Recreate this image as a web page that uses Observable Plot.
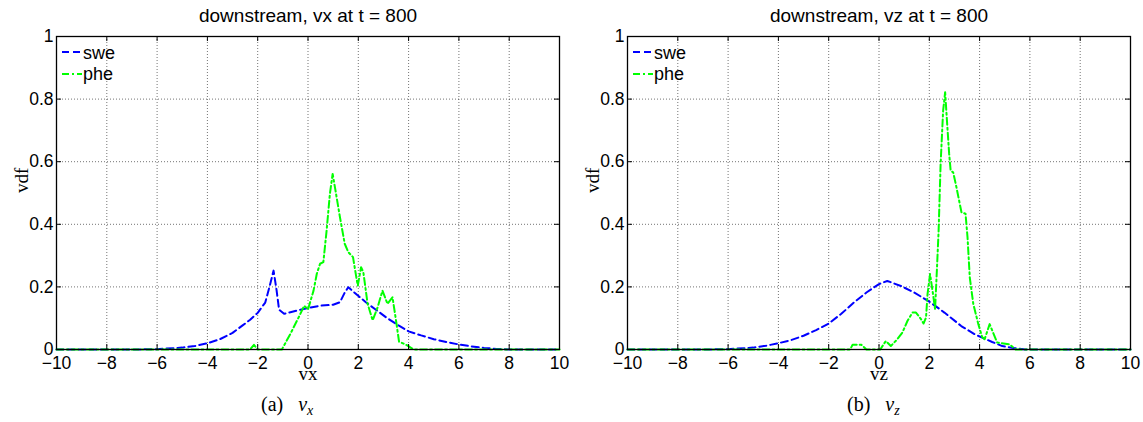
<!DOCTYPE html>
<html><head><meta charset="utf-8">
<script src="https://cdn.jsdelivr.net/npm/d3@7"></script>
<script src="https://cdn.jsdelivr.net/npm/@observablehq/plot@0.6"></script>
<style>
body{margin:0;background:#fff;}
#fig{position:relative;width:1143px;height:422px;background:#fff;overflow:hidden;}
.panel{position:absolute;top:0;width:571px;height:422px;}
.cap{position:absolute;top:394px;font-family:"Liberation Serif","Times New Roman",serif;font-size:20px;line-height:20px;white-space:nowrap;color:#000;}
.cap i{font-style:italic;}
.cap sub{font-size:14px;font-style:italic;vertical-align:baseline;position:relative;top:4px;}
.leg{position:absolute;font-family:"Liberation Sans",Arial,sans-serif;font-size:18px;line-height:18px;white-space:nowrap;color:#000;}
.legline{position:absolute;}
</style></head><body><div id="fig"></div>
<script>
// ---- tick values ----
const xTicks = [-10, -8, -6, -4, -2, 0, 2, 4, 6, 8, 10];
const yTicks = [0, 0.2, 0.4, 0.6, 0.8, 1];

// ---- texts ----
const titles = ["downstream, vx at t = 800", "downstream, vz at t = 800"];
const xLabels = ["vx", "vz"];
const yLabel = "vdf";
const captionLetters = ["(a)", "(b)"];
const captionSubs = ["x", "z"];
const seriesNames = ["swe", "phe"];
const seriesColors = ["#0000ff", "#00ff00"];
const seriesDash = ["7,4", "7,3,2,3"];

// ---- panel (a): vx ----
const sweVxV = [-10, -7, -6, -5, -4.5, -4, -3.5, -3, -2.6, -2.3, -2, -1.7, -1.5, -1.37, -1.25, -1.15, -0.95, -0.7, -0.3, 0, 0.5, 1.0, 1.27, 1.45, 1.6, 1.9, 2.3, 2.7, 3.1, 3.6, 4.0, 4.5, 5, 5.5, 6, 6.5, 7, 7.5, 8, 10];
const sweVxF = [0, 0, 0.001, 0.006, 0.011, 0.02, 0.033, 0.053, 0.077, 0.095, 0.117, 0.15, 0.21, 0.252, 0.19, 0.127, 0.114, 0.119, 0.127, 0.133, 0.14, 0.143, 0.151, 0.18, 0.199, 0.178, 0.151, 0.127, 0.103, 0.077, 0.058, 0.045, 0.033, 0.024, 0.016, 0.01, 0.005, 0.002, 0, 0];
const pheVxV = [-10, -2.3, -2.15, -2.0, -1.04, -0.7, -0.37, -0.15, 0, 0.22, 0.35, 0.48, 0.61, 0.74, 0.87, 0.98, 1.07, 1.27, 1.46, 1.6, 1.79, 1.92, 1.98, 2.11, 2.2, 2.37, 2.57, 2.77, 2.96, 3.16, 3.36, 3.52, 3.62, 3.9, 4.2, 10];
const pheVxF = [0, 0, 0.015, 0, 0, 0.05, 0.103, 0.14, 0.128, 0.188, 0.242, 0.274, 0.279, 0.38, 0.497, 0.561, 0.519, 0.423, 0.338, 0.311, 0.295, 0.231, 0.204, 0.263, 0.247, 0.146, 0.093, 0.135, 0.188, 0.146, 0.167, 0.082, 0.025, 0.015, 0, 0];

// ---- panel (b): vz ----
const sweVzV = [-10, -7, -6, -5, -4.5, -4, -3.5, -3, -2.5, -2, -1.5, -1, -0.5, 0, 0.33, 0.87, 1.4, 2, 2.6, 3.27, 3.8, 4.1, 4.5, 4.9, 5.4, 5.8, 10];
const sweVzF = [0, 0, 0.001, 0.006, 0.012, 0.02, 0.03, 0.044, 0.062, 0.083, 0.114, 0.15, 0.182, 0.209, 0.219, 0.203, 0.182, 0.153, 0.118, 0.075, 0.049, 0.038, 0.024, 0.011, 0.004, 0, 0];
const pheVzV = [-10, -1.15, -1.05, -0.7, -0.5, 0.05, 0.27, 0.47, 0.73, 0.93, 1.13, 1.33, 1.47, 1.67, 1.77, 1.87, 1.93, 2.03, 2.13, 2.23, 2.3, 2.37, 2.45, 2.55, 2.63, 2.71, 2.79, 2.85, 2.95, 3.08, 3.28, 3.44, 3.52, 3.61, 3.75, 3.95, 4.1, 4.2, 4.4, 4.7, 5.2, 5.43, 10];
const pheVzF = [0, 0, 0.015, 0.015, 0, 0, 0.027, 0.011, 0.033, 0.054, 0.091, 0.118, 0.118, 0.097, 0.083, 0.102, 0.177, 0.241, 0.187, 0.129, 0.251, 0.379, 0.593, 0.763, 0.822, 0.721, 0.625, 0.571, 0.566, 0.518, 0.438, 0.434, 0.358, 0.23, 0.145, 0.081, 0.04, 0.033, 0.081, 0.022, 0.016, 0, 0];

const panelsData = [
  {swe: [sweVxV, sweVxF], phe: [pheVxV, pheVxF]},
  {swe: [sweVzV, sweVzF], phe: [pheVzV, pheVzF]}
];
const panelLeft = [0, 571];
const captionLeft = [261, 847];

const fmtX = d => d < 0 ? "\u2212" + Math.abs(d) : String(d);
const sansFont = "Liberation Sans, Arial, Helvetica, sans-serif";
const serifFont = "Liberation Serif, Times New Roman, serif";

function makePanel(i) {
  const pd = panelsData[i];
  const table = (arr) => arr[0].map((v, k) => ({v, f: arr[1][k]}));
  const swe = table(pd.swe), phe = table(pd.phe);
  return Plot.plot({
    width: 571, height: 390,
    marginLeft: 56, marginRight: 12, marginTop: 36, marginBottom: 41,
    style: {fontFamily: sansFont, fontSize: "18px", background: "white", color: "black", overflow: "visible"},
    x: {domain: [-10, 10]},
    y: {domain: [0, 1]},
    marks: [
      Plot.gridX(xTicks, {stroke: "#000", strokeOpacity: 0.55, strokeDasharray: "1,2"}),
      Plot.gridY(yTicks, {stroke: "#000", strokeOpacity: 0.55, strokeDasharray: "1,2"}),
      Plot.line(swe, {x: "v", y: "f", stroke: seriesColors[0], strokeWidth: 2, strokeDasharray: seriesDash[0]}),
      Plot.line(phe, {x: "v", y: "f", stroke: seriesColors[1], strokeWidth: 2, strokeDasharray: seriesDash[1]}),
      Plot.ruleX(xTicks, {insetTop: 308, stroke: "#000"}),
      Plot.ruleX(xTicks, {insetBottom: 308, stroke: "#000"}),
      Plot.ruleY(yTicks, {insetRight: 498, stroke: "#000"}),
      Plot.ruleY(yTicks, {insetLeft: 498, stroke: "#000"}),
      Plot.frame({stroke: "#000", strokeWidth: 1.3}),
      Plot.axisX(xTicks, {anchor: "bottom", tickSize: 0, tickPadding: 7, label: null, tickFormat: fmtX, fontSize: 17.5}),
      Plot.axisY(yTicks, {anchor: "left", tickSize: 0, tickPadding: 3, label: null, tickFormat: d => String(d), fontSize: 17.5}),
      Plot.text([titles[i]], {text: d => d, frameAnchor: "top", dy: -15, lineAnchor: "bottom", fontSize: 19}),
      Plot.text([xLabels[i]], {text: d => d, frameAnchor: "bottom", dy: 30.5, lineAnchor: "bottom", fontFamily: serifFont, fontSize: 19}),
      Plot.text([yLabel], {text: d => d, frameAnchor: "left", dx: -29, rotate: -90, lineAnchor: "bottom", fontFamily: serifFont, fontSize: 19})
    ]
  });
}

const fig = document.getElementById("fig");
for (let i = 0; i < 2; i++) {
  const div = document.createElement("div");
  div.className = "panel";
  div.style.left = panelLeft[i] + "px";
  div.appendChild(makePanel(i));
  // legend
  seriesNames.forEach((name, k) => {
    const ly = [52, 73.5][k];
    const svgNS = "http://www.w3.org/2000/svg";
    const s = document.createElementNS(svgNS, "svg");
    s.setAttribute("class", "legline");
    s.setAttribute("width", 21); s.setAttribute("height", 6);
    s.style.left = "62px"; s.style.top = (ly - 3) + "px";
    const ln = document.createElementNS(svgNS, "line");
    ln.setAttribute("x1", 0); ln.setAttribute("x2", 20); ln.setAttribute("y1", 3); ln.setAttribute("y2", 3);
    ln.setAttribute("stroke", seriesColors[k]); ln.setAttribute("stroke-width", 2);
    ln.setAttribute("stroke-dasharray", seriesDash[k]);
    s.appendChild(ln);
    div.appendChild(s);
    const t = document.createElement("div");
    t.className = "leg";
    t.style.left = "83px"; t.style.top = [44, 65][k] + "px";
    t.textContent = name;
    div.appendChild(t);
  });
  fig.appendChild(div);
  const cap = document.createElement("div");
  cap.className = "cap";
  cap.style.left = captionLeft[i] + "px";
  cap.innerHTML = captionLetters[i] + "&ensp;&nbsp;<i>v</i><sub>" + captionSubs[i] + "</sub>";
  fig.appendChild(cap);
}
</script>
</body></html>
